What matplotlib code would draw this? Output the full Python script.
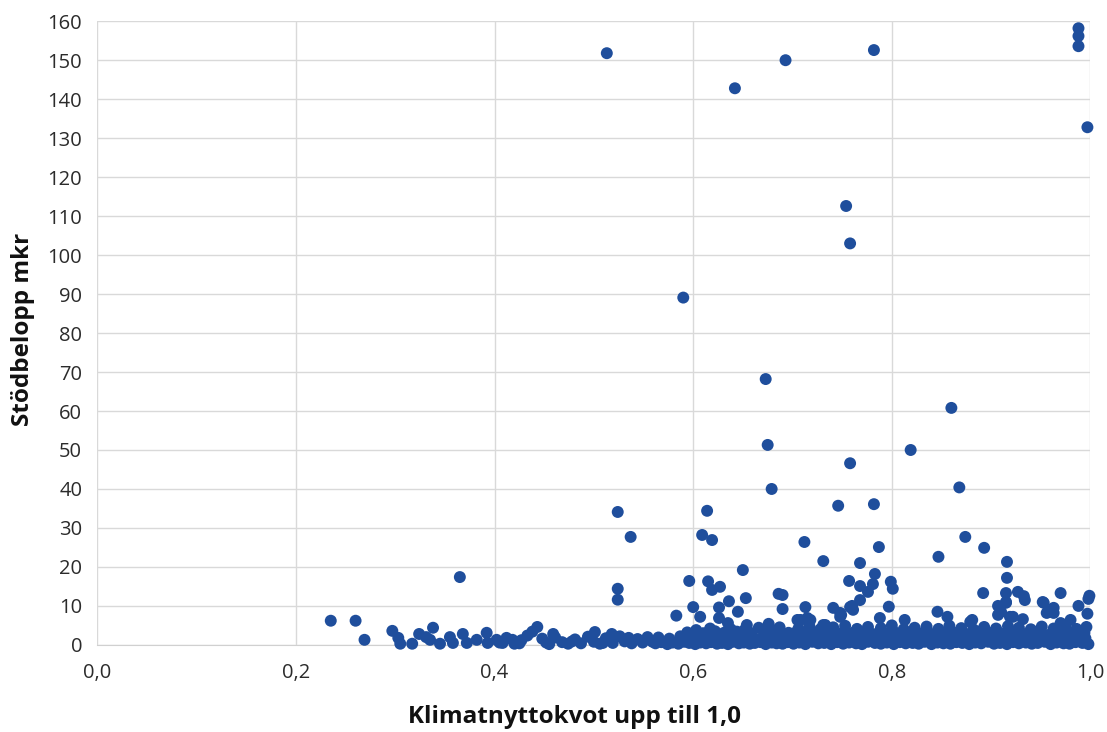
import matplotlib
matplotlib.use("Agg")
import matplotlib.pyplot as plt
import numpy as np

# ---------------- data ----------------
# isolated / outlying points (x = klimatnyttokvot, y = stödbelopp mkr)
out_x = [0.988, 0.988, 0.988, 0.513, 0.782, 0.693, 0.642, 0.997, 0.754, 0.758,
         0.590, 0.673, 0.860, 0.675, 0.819, 0.758, 0.679, 0.868, 0.524, 0.614,
         0.746, 0.782, 0.537, 0.609, 0.619, 0.712, 0.787, 0.874, 0.893, 0.731,
         0.768, 0.847, 0.916, 0.650, 0.365, 0.916, 0.783, 0.596, 0.615, 0.757,
         0.799, 0.768, 0.781, 0.627, 0.524, 0.619, 0.801, 0.776, 0.686, 0.690,
         0.892, 0.915, 0.927, 0.970, 0.999, 0.933, 0.653, 0.524, 0.636, 0.768,
         0.934, 0.915, 0.953, 0.998, 0.988, 0.760, 0.907, 0.915, 0.952, 0.600,
         0.626, 0.713, 0.758, 0.797, 0.741, 0.690, 0.963, 0.761, 0.645, 0.846,
         0.910, 0.748, 0.907, 0.957, 0.997, 0.956, 0.963, 0.583, 0.749, 0.607,
         0.626, 0.715, 0.788, 0.856, 0.919, 0.922, 0.748, 0.705, 0.708, 0.718,
         0.813, 0.932, 0.980, 0.881, 0.879, 0.635, 0.970, 0.654, 0.676, 0.731,
         0.733, 0.235, 0.260, 0.269, 0.443, 0.438, 0.459, 0.501, 0.518]
out_y = [158.2, 156.2, 153.6, 151.8, 152.6, 150.0, 142.8, 132.8, 112.6, 103.0,
         89.1, 68.2, 60.8, 51.3, 50.0, 46.6, 40.0, 40.4, 34.1, 34.4,
         35.7, 36.1, 27.7, 28.2, 26.9, 26.4, 25.1, 27.7, 24.9, 21.5,
         21.0, 22.6, 21.3, 19.2, 17.4, 17.2, 18.2, 16.4, 16.3, 16.4,
         16.2, 15.1, 15.6, 14.9, 14.4, 14.1, 14.4, 13.6, 13.1, 12.8,
         13.3, 13.3, 13.6, 13.3, 12.6, 12.5, 12.0, 11.6, 11.2, 11.5,
         11.5, 11.0, 10.8, 11.8, 10.0, 10.0, 10.0, 10.8, 11.0, 9.7,
         9.6, 9.7, 9.7, 9.8, 9.5, 9.2, 9.5, 9.0, 8.5, 8.5,
         8.5, 8.2, 7.7, 8.4, 8.0, 8.2, 8.2, 7.5, 7.7, 7.2,
         6.9, 6.9, 6.9, 7.2, 7.2, 7.2, 7.2, 6.4, 6.4, 6.4,
         6.4, 6.6, 6.4, 6.4, 5.9, 5.6, 5.6, 5.1, 5.4, 5.1,
         5.1, 6.2, 6.2, 1.3, 4.6, 3.4, 2.8, 3.3, 2.8]

# low-level points between 0.29 and 0.56
low_x = [0.297, 0.303, 0.305, 0.317, 0.324, 0.331, 0.338, 0.335, 0.345, 0.355,
         0.358, 0.368, 0.372, 0.382, 0.392, 0.393, 0.402, 0.408, 0.418, 0.405,
         0.412, 0.420, 0.427, 0.433, 0.448, 0.455, 0.461, 0.468, 0.474, 0.481,
         0.487, 0.494, 0.500, 0.506, 0.512, 0.519, 0.526, 0.531, 0.538, 0.544,
         0.549, 0.554, 0.559, 0.425, 0.452, 0.478, 0.509, 0.535]
low_y = [3.6, 1.8, 0.3, 0.3, 2.8, 2.0, 4.4, 1.3, 0.3, 2.0,
         0.5, 2.8, 0.5, 1.3, 3.1, 0.5, 1.3, 0.5, 1.3, 0.6,
         1.8, 0.3, 1.2, 2.4, 1.6, 0.2, 1.9, 0.7, 0.3, 1.4,
         0.4, 2.1, 0.8, 0.3, 1.7, 0.5, 2.2, 0.9, 0.4, 1.5,
         0.6, 2.0, 0.8, 0.4, 0.6, 0.9, 0.5, 1.8]

# dense band 0.56-0.70
midb_x = [0.562, 0.568, 0.574, 0.579, 0.585, 0.591, 0.596, 0.602, 0.607, 0.613,
          0.618, 0.624, 0.629, 0.635, 0.640, 0.646, 0.651, 0.657, 0.662, 0.668,
          0.673, 0.679, 0.684, 0.690, 0.695,
          0.565, 0.576, 0.587, 0.598, 0.605, 0.611, 0.620, 0.627, 0.633, 0.642,
          0.649, 0.655, 0.661, 0.670, 0.676, 0.682, 0.688, 0.694, 0.699,
          0.594, 0.603, 0.610, 0.617, 0.622, 0.631, 0.638, 0.644, 0.652, 0.659,
          0.666, 0.672, 0.681, 0.687, 0.696]
midb_y = [0.4, 0.7, 0.2, 0.6, 0.3, 0.8, 0.5, 0.2, 0.6, 0.4,
          0.7, 0.3, 0.5, 0.2, 0.8, 0.4, 0.6, 0.3, 0.5, 0.7,
          0.2, 0.6, 0.4, 0.3, 0.7,
          1.9, 1.6, 2.2, 1.8, 2.4, 1.7, 2.0, 2.3, 1.6, 2.1,
          1.8, 2.5, 1.7, 2.0, 2.3, 1.9, 2.6, 1.8, 2.2,
          3.2, 3.8, 3.0, 4.2, 3.5, 3.1, 4.0, 3.4, 3.9, 3.0,
          4.4, 3.3, 3.7, 4.5, 3.1]

# dense band 0.70-1.00
hib_x = [0.701, 0.707, 0.713, 0.720, 0.726, 0.732, 0.739, 0.745, 0.751, 0.757,
         0.764, 0.770, 0.776, 0.783, 0.789, 0.795, 0.802, 0.808, 0.814, 0.821,
         0.827, 0.833, 0.840, 0.846, 0.852, 0.859, 0.865, 0.871, 0.878, 0.884,
         0.890, 0.897, 0.903, 0.909, 0.916, 0.922, 0.928, 0.935, 0.941, 0.947,
         0.954, 0.960, 0.966, 0.973, 0.979, 0.985, 0.992, 0.998,
         0.704, 0.710, 0.717, 0.723, 0.729, 0.736, 0.742, 0.748, 0.755, 0.761,
         0.767, 0.774, 0.780, 0.786, 0.793, 0.799, 0.805, 0.812, 0.818, 0.824,
         0.831, 0.837, 0.843, 0.850, 0.856, 0.862, 0.869, 0.875, 0.881, 0.888,
         0.894, 0.900, 0.907, 0.913, 0.919, 0.926, 0.932, 0.938, 0.945, 0.951,
         0.957, 0.964, 0.970, 0.976, 0.983, 0.989, 0.995,
         0.702, 0.711, 0.719, 0.727, 0.736, 0.744, 0.752, 0.761, 0.769, 0.777,
         0.786, 0.794, 0.802, 0.811, 0.819, 0.827, 0.836, 0.844, 0.852, 0.861,
         0.869, 0.877, 0.886, 0.894, 0.902, 0.911, 0.919, 0.927, 0.936, 0.944,
         0.952, 0.961, 0.969, 0.977, 0.986, 0.994,
         0.706, 0.717, 0.728, 0.741, 0.753, 0.765, 0.776, 0.789, 0.800, 0.812,
         0.823, 0.835, 0.847, 0.858, 0.870, 0.882, 0.893, 0.905, 0.917, 0.928,
         0.940, 0.951, 0.963, 0.975, 0.986, 0.996]
hib_y = [0.3, 0.6, 0.2, 0.8, 0.4, 0.5, 0.2, 0.7, 0.3, 0.6,
         0.4, 0.2, 0.8, 0.5, 0.3, 0.6, 0.2, 0.7, 0.4, 0.5,
         0.3, 0.8, 0.2, 0.6, 0.4, 0.3, 0.7, 0.5, 0.2, 0.6,
         0.4, 0.8, 0.3, 0.5, 0.2, 0.7, 0.4, 0.6, 0.3, 0.5,
         0.8, 0.2, 0.6, 0.4, 0.3, 0.7, 0.5, 0.2,
         1.6, 1.9, 1.4, 2.1, 1.7, 1.5, 2.2, 1.8, 1.6, 2.0,
         1.4, 1.9, 1.7, 2.2, 1.5, 1.8, 2.0, 1.6, 1.4, 2.1,
         1.7, 1.9, 1.5, 2.2, 1.8, 1.6, 2.0, 1.4, 1.7, 2.1,
         1.9, 1.5, 1.8, 2.2, 1.6, 1.4, 2.0, 1.7, 1.9, 1.5,
         2.1, 1.8, 1.6, 2.2, 1.4, 1.9, 1.7,
         3.0, 2.8, 3.4, 2.9, 3.2, 2.7, 3.5, 3.1, 2.8, 3.3,
         3.0, 2.9, 3.4, 2.7, 3.2, 3.0, 3.5, 2.8, 3.1, 3.3,
         2.9, 2.7, 3.4, 3.0, 3.2, 2.8, 3.5, 3.1, 2.9, 3.3,
         2.7, 3.0, 3.4, 2.8, 3.2, 3.1,
         4.2, 4.8, 4.0, 4.5, 4.9, 4.1, 4.6, 4.3, 5.0, 4.0,
         4.4, 4.7, 4.1, 4.9, 4.3, 4.0, 4.6, 4.2, 4.8, 4.4,
         4.0, 4.7, 4.2, 4.5, 4.1, 4.6]

x_ticks = [0.0, 0.2, 0.4, 0.6, 0.8, 1.0]
x_tick_labels = ["0,0", "0,2", "0,4", "0,6", "0,8", "1,0"]
y_ticks = list(range(0, 161, 10))

x_all = np.array(out_x + low_x + midb_x + hib_x)
y_all = np.array(out_y + low_y + midb_y + hib_y)

# ---------------- figure ----------------
plt.rcParams['font.family'] = ['Open Sans', 'DejaVu Sans']
fig = plt.figure(figsize=(11.07, 7.32), dpi=100)
ax = fig.add_axes([0.088, 0.119, 0.897, 0.852])

ax.scatter(x_all, y_all, s=74, color='#1f4e9c', edgecolors='none', zorder=3,
           clip_on=False)

ax.set_xlim(0, 1.0)
ax.set_ylim(0, 160)
ax.set_xticks(x_ticks)
ax.set_xticklabels(x_tick_labels)
ax.set_yticks(y_ticks)
ax.grid(True, color='#d9d9d9', linewidth=1.0, zorder=0)
ax.set_axisbelow(True)
for side in ['top', 'right', 'left']:
    ax.spines[side].set_visible(False)
ax.spines['bottom'].set_color('#d0d0d0')
ax.tick_params(length=0, labelsize=14.5, colors='#2b2b2b')
ax.tick_params(axis='y', pad=11)
ax.tick_params(axis='x', pad=13)

fig.text(0.519, 0.0205, 'Klimatnyttokvot upp till 1,0', fontsize=17.5,
         fontweight='bold', ha='center', va='center', color='#111111')
fig.text(0.021, 0.55, 'Stödbelopp mkr', fontsize=17.5, fontweight='bold',
         rotation=90, ha='center', va='center', color='#111111')

fig.savefig('out.png', dpi=100, facecolor='white')
